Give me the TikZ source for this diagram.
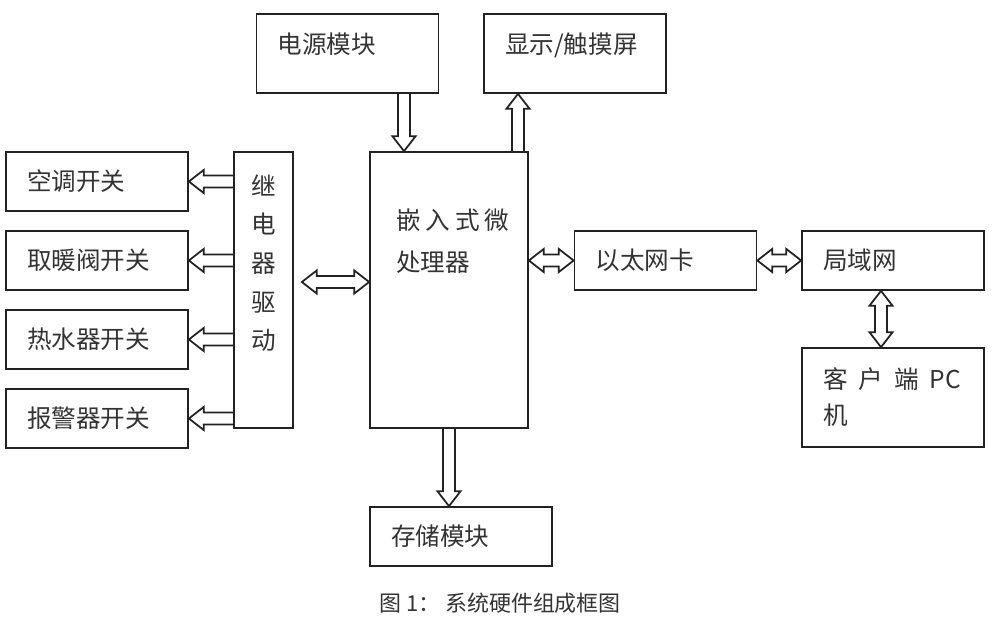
\documentclass[tikz,border=0pt]{standalone}
\usepackage{fontspec}
\newfontfamily\cjk{Noto Sans CJK SC}
\usetikzlibrary{calc}
\definecolor{ink}{HTML}{222222}
\definecolor{txt}{HTML}{333333}
\newcommand{\gap}{\kern0.1cm}
% hollow block arrow, head at #2
\newcommand{\onearrow}[2]{%
  \draw[blk] let \p1=(#1), \p2=(#2), \n1={atan2(\y2-\y1,\x2-\x1)}, \n2={veclen(\x2-\x1,\y2-\y1)} in
    [shift={(\p1)}, rotate=\n1]
    (0pt,3.4pt) -- ({\n2-8.5pt},3.4pt) -- ({\n2-8.5pt},6.6pt) -- (\n2,0pt)
    -- ({\n2-8.5pt},-6.6pt) -- ({\n2-8.5pt},-3.4pt) -- (0pt,-3.4pt);}
% hollow block arrow, heads at both ends
\newcommand{\twoarrow}[2]{%
  \draw[blk] let \p1=(#1), \p2=(#2), \n1={atan2(\y2-\y1,\x2-\x1)}, \n2={veclen(\x2-\x1,\y2-\y1)} in
    [shift={(\p1)}, rotate=\n1]
    (0pt,0pt) -- (8.5pt,6.6pt) -- (8.5pt,3.4pt) -- ({\n2-8.5pt},3.4pt) -- ({\n2-8.5pt},6.6pt)
    -- (\n2,0pt) -- ({\n2-8.5pt},-6.6pt) -- ({\n2-8.5pt},-3.4pt) -- (8.5pt,-3.4pt)
    -- (8.5pt,-6.6pt) -- cycle;}
\begin{document}
\begin{tikzpicture}[x=0.02cm, y=-0.02cm,
    box/.style={draw=ink, line width=1pt, inner xsep=0.42cm, inner ysep=0pt, align=left,
      text=txt, font=\cjk\fontsize{14}{17}\selectfont},
    wide/.style={box, minimum width=3.64cm, text width=2.8cm, minimum height=1.18cm},
    tall/.style={box, minimum height=5.52cm},
    blk/.style={draw=ink, line width=1pt, line join=miter}]
  \useasboundingbox (0,0) rectangle (1000,628);
  % top row
  \node[wide, minimum height=1.58cm, text depth=0.4cm] (pwr) at (347.5,53.5) {电源模块};
  \node[wide, minimum height=1.58cm, text depth=0.4cm] (disp) at (575,53.5) {显示/触摸屏};
  % centre
  \node[tall, minimum width=3.16cm] (cpu) at (449,290) {};
  \node[anchor=west, align=left, text=txt, font=\cjk\fontsize{14}{24}\selectfont]
    (cputext) at (390,241) {嵌\gap 入\gap 式\gap 微\\处理器};
  \node[tall, minimum width=1.18cm] (relay) at (263.5,290) {};
  \node[align=center, text=txt, font=\cjk\fontsize{14}{22}\selectfont]
    (relaytext) at (263.5,263) {继\\电\\器\\驱\\动};
  % switches
  \node[wide] (sw1) at (97,181.5) {空调开关};
  \node[wide] (sw2) at (97,260.5) {取暖阀开关};
  \node[wide] (sw3) at (97,339.5) {热水器开关};
  \node[wide] (sw4) at (97,418.5) {报警器开关};
  % network side
  \node[wide] (eth) at (665.5,260.5) {以太网卡};
  \node[wide] (lan) at (893,260.5) {局域网};
  \node[wide, minimum height=1.98cm, font=\cjk\fontsize{14}{20.5}\selectfont]
    (pc) at (893,397.5) {客\kern0.22cm 户\kern0.22cm 端\kern0.22cm PC\\机};
  % bottom
  \node[wide] (mem) at (461,536.5) {存储模块};
  \node[text=txt, font=\cjk\fontsize{12.5}{14}\selectfont] (cap) at (500,603) {图 1：\kern0.1cm 系统硬件组成框图};

  \onearrow{404,0 |- pwr.south}{404,0 |- cpu.north}
  \onearrow{518,0 |- cpu.north}{518,0 |- disp.south}
  \onearrow{cpu.south}{mem.north -| cpu.south}
  \twoarrow{$(relay.east |- 0,282)+(8,0)$}{cpu.west |- 0,282}
  \onearrow{relay.west |- sw1.east}{sw1.east}
  \onearrow{relay.west |- sw2.east}{sw2.east}
  \onearrow{relay.west |- sw3.east}{sw3.east}
  \onearrow{relay.west |- sw4.east}{sw4.east}
  \twoarrow{cpu.east |- eth.west}{eth.west}
  \twoarrow{eth.east}{lan.west}
  \twoarrow{$(lan.south)+(-12,0)$}{$(pc.north)+(-12,0)$}
\end{tikzpicture}
\end{document}
